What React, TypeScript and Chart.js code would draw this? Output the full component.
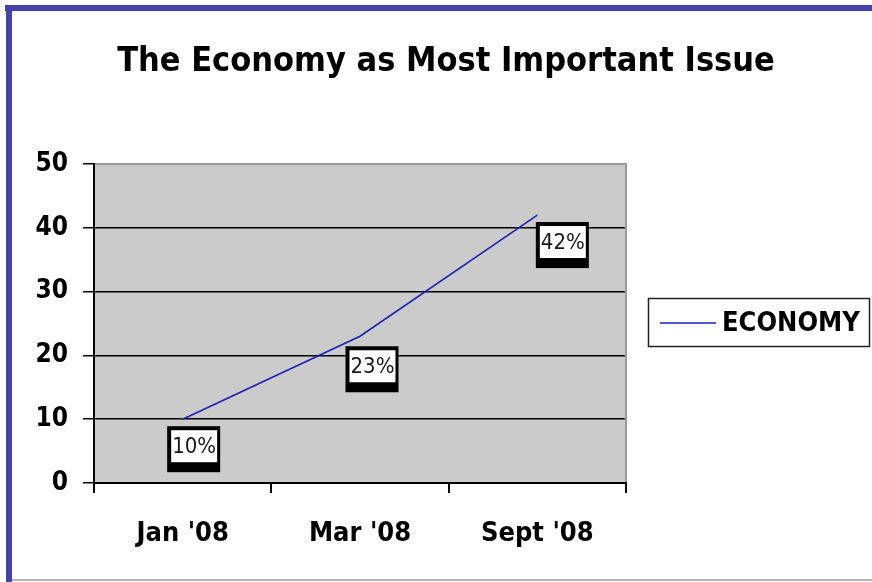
import React, { useEffect, useRef } from "react";
import { Chart, registerables } from "chart.js";

Chart.register(...registerables);

const categories: string[] = ["Jan '08", "Mar '08", "Sept '08"];
const economyValues: number[] = [10, 23, 42];
const valueLabels: string[] = ["10%", "23%", "42%"];
const seriesName = "ECONOMY";
const chartTitle = "The Economy as Most Important Issue";
const yTicks: number[] = [0, 10, 20, 30, 40, 50];

// label box nudges (layout only)
const nudgeX: number[] = [11, 12, 25];
const nudgeY: number[] = [30, 33, 30];

const NARROW = "'Liberation Sans Narrow', 'DejaVu Sans Condensed', 'Liberation Sans', sans-serif";

export default function App() {
  const ref = useRef<HTMLCanvasElement | null>(null);

  useEffect(() => {
    if (!ref.current) return;

    const framePlugin = {
      id: "frame",
      beforeDraw(chart: any) {
        const { ctx, chartArea: a } = chart;
        ctx.save();
        ctx.fillStyle = "#ffffff";
        ctx.fillRect(0, 0, chart.width, chart.height);
        // page border
        ctx.fillStyle = "#4242a8";
        ctx.fillRect(5, 5, chart.width - 5, 6);
        ctx.fillRect(6, 5, 6, chart.height - 5);
        ctx.fillStyle = "#b4b4bc";
        ctx.fillRect(12, 579, chart.width - 12, 2);
        // plot background
        ctx.fillStyle = "#cbcbcb";
        ctx.fillRect(a.left, a.top, a.right - a.left, a.bottom - a.top);
        // title
        ctx.fillStyle = "#000";
        ctx.font = `bold 34px ${NARROW}`;
        ctx.textAlign = "center";
        ctx.textBaseline = "middle";
        ctx.fillText(chartTitle, 446, 62);
        ctx.restore();
      },
      afterDraw(chart: any) {
        const { ctx, chartArea: a } = chart;
        ctx.save();
        ctx.strokeStyle = "#9a9a9a";
        ctx.lineWidth = 2;
        ctx.beginPath();
        ctx.moveTo(a.left + 1, a.top);
        ctx.lineTo(a.right, a.top);
        ctx.lineTo(a.right, a.bottom - 1);
        ctx.stroke();
        ctx.restore();

        // legend
        const ds = chart.data.datasets[0];
        ctx.save();
        ctx.fillStyle = "#ffffff";
        ctx.fillRect(648, 298, 222, 49);
        ctx.strokeStyle = "#222";
        ctx.lineWidth = 1.5;
        ctx.strokeRect(648.5, 298.5, 221, 48);
        ctx.strokeStyle = ds.borderColor;
        ctx.lineWidth = 1.5;
        ctx.beginPath();
        ctx.moveTo(660, 323);
        ctx.lineTo(716, 323);
        ctx.stroke();
        ctx.fillStyle = "#000";
        ctx.font = `bold 27px ${NARROW}`;
        ctx.textBaseline = "middle";
        ctx.textAlign = "left";
        ctx.fillText(ds.label, 722, 324);
        ctx.restore();
      },
    };

    const labelPlugin = {
      id: "valueBoxes",
      afterDatasetsDraw(chart: any) {
        const { ctx } = chart;
        const meta = chart.getDatasetMeta(0);
        ctx.save();
        meta.data.forEach((pt: any, i: number) => {
          const cx = pt.x + nudgeX[i];
          const cy = pt.y + nudgeY[i];
          const w = 53;
          const h = 46;
          const left = cx - w / 2;
          const top = cy - h / 2;
          ctx.fillStyle = "#000";
          ctx.fillRect(left, top, w, h);
          ctx.fillStyle = "#fff";
          ctx.fillRect(left + 4, top + 4, w - 7, h - 14);
          ctx.fillStyle = "#1a1a1a";
          ctx.font = `22px ${NARROW}`;
          ctx.textAlign = "center";
          ctx.textBaseline = "middle";
          ctx.fillText(valueLabels[i], left + 4 + (w - 7) / 2, top + 4 + (h - 14) / 2 + 1);
        });
        ctx.restore();
      },
    };

    const chart = new Chart(ref.current, {
      type: "line",
      data: {
        labels: categories,
        datasets: [
          {
            label: seriesName,
            data: economyValues,
            borderColor: "#1c22b4",
            borderWidth: 1.6,
            pointRadius: 0,
            tension: 0,
            fill: false,
          },
        ],
      },
      options: {
        responsive: false,
        animation: false,
        devicePixelRatio: 1,
        layout: { padding: { top: 164, left: 0, right: 246, bottom: 0 } },
        plugins: {
          legend: { display: false },
          tooltip: { enabled: false },
          title: { display: false },
        },
        scales: {
          x: {
            type: "category",
            offset: true,
            afterFit(scale: any) {
              scale.height = 99;
            },
            grid: {
              offset: true,
              drawOnChartArea: false,
              tickLength: 10,
              tickColor: "#000",
              lineWidth: 2,
            },
            border: { display: true, color: "#000", width: 2 },
            ticks: {
              color: "#000",
              padding: 25,
              font: { family: NARROW, size: 27, weight: "bold" },
            },
          },
          y: {
            min: 0,
            max: 50,
            afterFit(scale: any) {
              scale.width = 94;
            },
            afterBuildTicks(scale: any) {
              scale.ticks = yTicks.map((v) => ({ value: v }));
            },
            grid: {
              color: (c: any) => (c.tick && c.tick.value === 50 ? "#9a9a9a" : "#000"),
              tickColor: "#000",
              tickLength: 11,
              lineWidth: 1.5,
            },
            border: { display: true, color: "#000", width: 2 },
            ticks: {
              color: "#000",
              padding: 15,
              font: { family: NARROW, size: 26, weight: "bold" },
            },
          },
        },
      },
      plugins: [framePlugin, labelPlugin],
    } as any);

    return () => chart.destroy();
  }, []);

  return (
    <div style={{ position: "absolute", left: 0, top: 0, width: 872, height: 582 }}>
      <canvas ref={ref} width={872} height={582} style={{ display: "block", width: 872, height: 582 }} />
    </div>
  );
}
